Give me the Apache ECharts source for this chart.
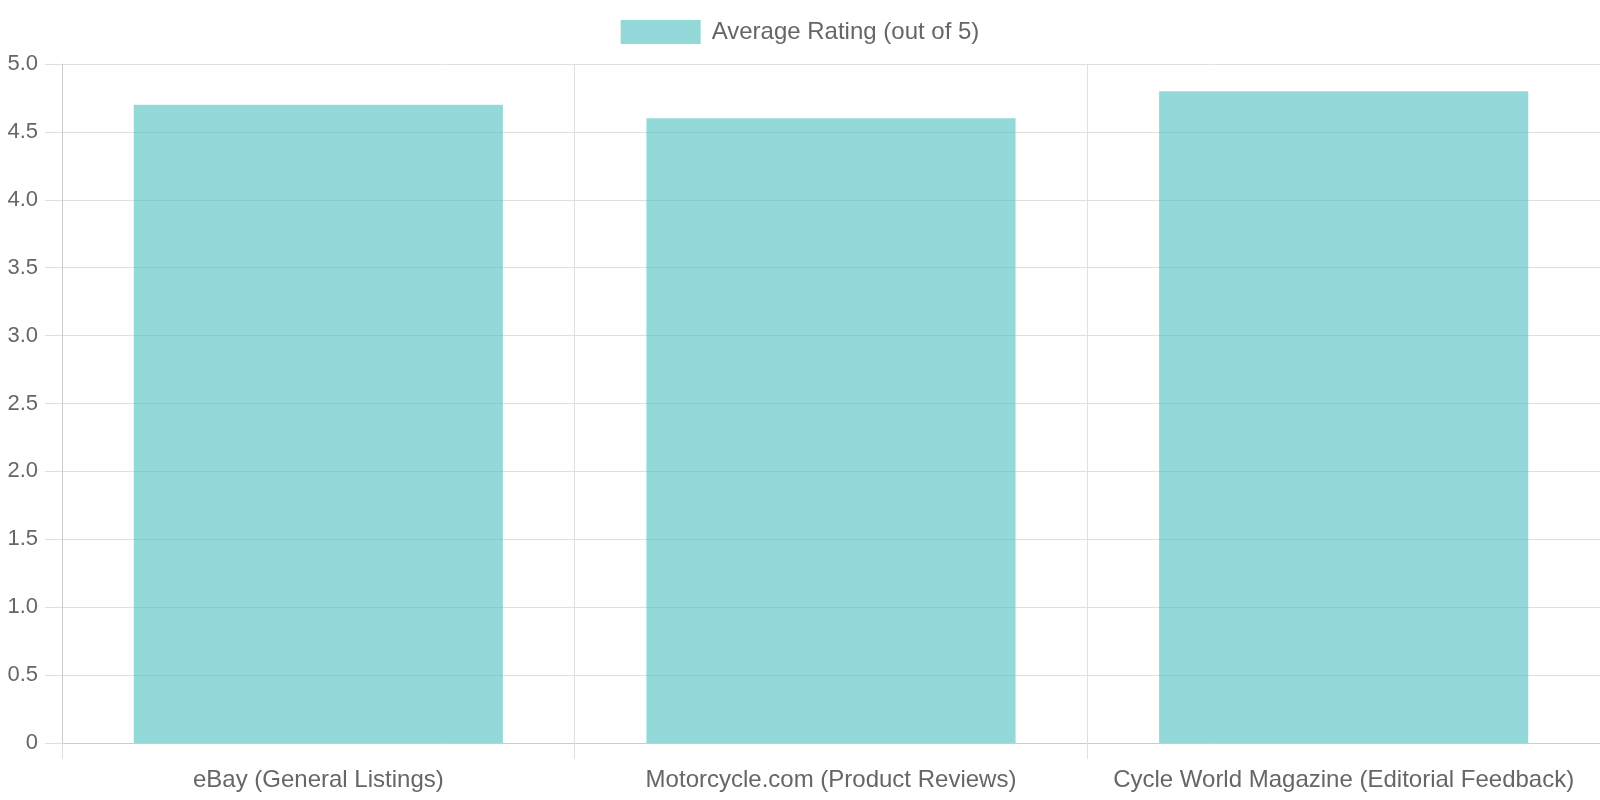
<!DOCTYPE html>
<html><head><meta charset="utf-8">
<script src="https://cdn.jsdelivr.net/npm/echarts@6/dist/echarts.min.js"></script>
<style>html,body{margin:0;padding:0;background:#fff}#c{width:1600px;height:800px}</style>
</head><body><div id="c"></div>
<script>
const categories = ["eBay (General Listings)", "Motorcycle.com (Product Reviews)", "Cycle World Magazine (Editorial Feedback)"];
const seriesName = "Average Rating (out of 5)";
const ratings = [4.7, 4.6, 4.8];
const yTicks = {min: 0, max: 5, interval: 0.5};

const font = '"Liberation Sans", Arial, Helvetica, sans-serif';
const chart = echarts.init(document.getElementById('c'));
chart.setOption({
  animation: false,
  textStyle: {fontFamily: font},
  legend: {
    top: 15, left: 'center',
    itemWidth: 80, itemHeight: 24, itemGap: 20,
    icon: 'rect',
    textStyle: {color: '#666', fontSize: 24, fontFamily: font, padding: [0, 0, 0, 6]},
    data: [seriesName]
  },
  grid: {left: 62, right: 0, top: 64, bottom: 57, containLabel: false},
  xAxis: {
    type: 'category',
    data: categories,
    boundaryGap: true,
    axisLine: {show: true, lineStyle: {color: '#cccccc', width: 1}},
    axisTick: {show: true, length: 16, alignWithLabel: false, lineStyle: {color: '#e0e0e0'}},
    splitLine: {show: true, lineStyle: {color: '#e0e0e0', width: 1}},
    axisLabel: {color: '#666', fontSize: 24, fontFamily: font, margin: 25, interval: 0}
  },
  yAxis: {
    type: 'value',
    min: yTicks.min, max: yTicks.max, interval: yTicks.interval,
    axisLine: {show: true, lineStyle: {color: '#cccccc', width: 1}},
    axisTick: {show: true, length: 17, lineStyle: {color: '#e0e0e0'}},
    splitLine: {show: true, lineStyle: {color: '#e0e0e0', width: 1}},
    axisLabel: {color: '#666', fontSize: 22, fontFamily: font, margin: 24,
      formatter: v => v === 0 ? '0' : v.toFixed(1)}
  },
  series: [{
    name: seriesName,
    type: 'bar',
    data: ratings,
    barCategoryGap: '28%',
    itemStyle: {color: 'rgba(75,192,192,0.6)'}
  }]
});
</script></body></html>
